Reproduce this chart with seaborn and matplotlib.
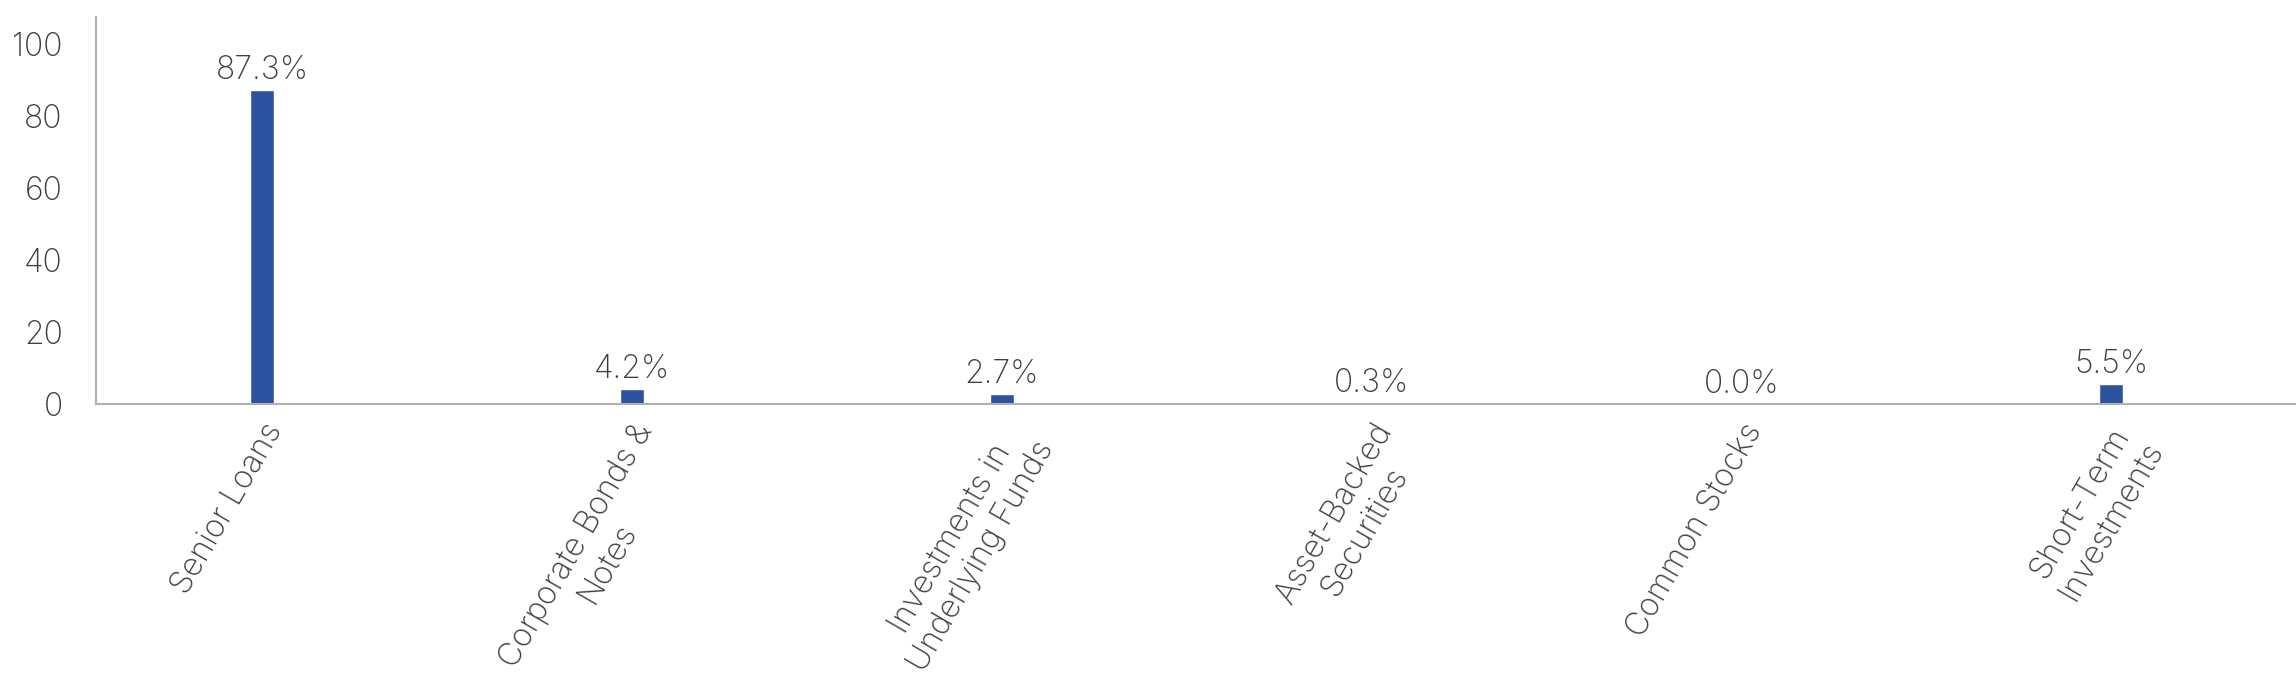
import matplotlib
matplotlib.use("Agg")
import matplotlib.pyplot as plt
import seaborn as sns
import pandas as pd

# Portfolio composition
categories = ["Senior Loans", "Corporate Bonds &\nNotes", "Investments in\nUnderlying Funds",
              "Asset-Backed\nSecurities", "Common Stocks", "Short-Term\nInvestments"]
values = [87.3, 4.2, 2.7, 0.3, 0.0, 5.5]
yticks = [0, 20, 40, 60, 80, 100]

BAR_COLOR = "#2D52A0"
TEXT_COLOR = "#3e3e3e"
SPINE_COLOR = "#b0b0b0"
FS = 23

sns.set_style("white")
plt.rcParams["font.family"] = ["Inter", "DejaVu Sans"]
plt.rcParams["font.weight"] = "light"

df = pd.DataFrame({"cat": categories, "val": values})

fig = plt.figure(figsize=(22.96, 6.92), dpi=100)
ax = fig.add_axes([0.0418, 0.416, 0.9582, 0.559])

sns.barplot(data=df, x="cat", y="val", color=BAR_COLOR, width=0.065,
            saturation=1, ax=ax)

for i, v in enumerate(values):
    ax.text(i, v + 1.2, f"{v:.1f}%", ha="center", va="bottom",
            fontsize=FS, color=TEXT_COLOR, fontweight="light")

ax.set_xlim(-0.45, 5.5)
ax.set_ylim(0, 107.5)
ax.set_yticks(yticks)
ax.set_xlabel("")
ax.set_ylabel("")

ax.tick_params(axis="y", length=0, labelsize=FS, labelcolor=TEXT_COLOR, pad=24)
ax.tick_params(axis="x", length=0, labelsize=FS, labelcolor=TEXT_COLOR, pad=10)
for lbl in ax.get_xticklabels() + ax.get_yticklabels():
    lbl.set_fontweight("light")
for lbl in ax.get_xticklabels():
    lbl.set_rotation(60)
    lbl.set_ha("right")
    lbl.set_rotation_mode("anchor")
    lbl.set_multialignment("center")

sns.despine(ax=ax)
for side in ["left", "bottom"]:
    ax.spines[side].set_color(SPINE_COLOR)
    ax.spines[side].set_linewidth(1.5)

fig.savefig("out.png", dpi=100)
